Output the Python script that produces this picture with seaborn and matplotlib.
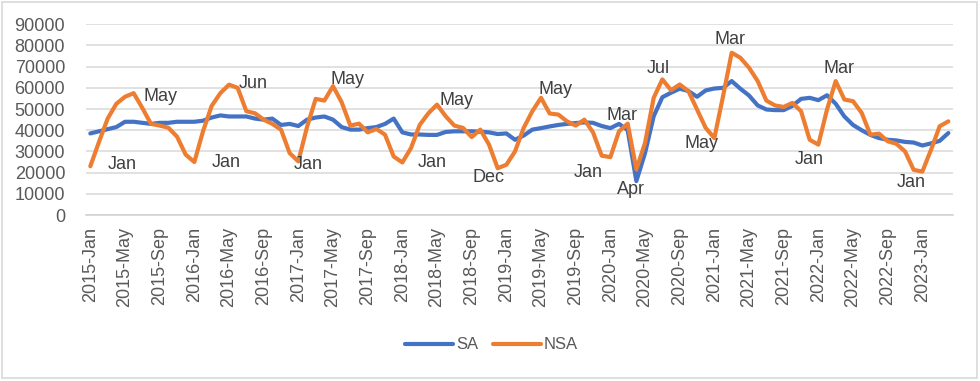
import matplotlib
matplotlib.use("Agg")
import matplotlib.pyplot as plt
import seaborn as sns
import pandas as pd
from matplotlib.patches import Rectangle

# ---------------- data ----------------
months = list(range(100))  # 2015-Jan .. 2023-Apr, monthly

sa = [38500, 39500, 40500, 41500, 44000, 44000, 43500, 43000, 43500, 43500,
      44000, 44000, 44000, 44500, 46000, 47000, 46500, 46500, 46500, 45500,
      45000, 45500, 42500, 43000, 42000, 45000, 46000, 46500, 45000, 41500,
      40300, 40300, 41000, 41500, 43000, 45500, 39000, 38000, 38000, 37800,
      37800, 39200, 39500, 39500, 39500, 39300, 39000, 38200, 38500, 35500,
      37500, 40300, 41000, 41800, 42500, 43000, 43400, 43700, 43500, 42000,
      41000, 43000, 40000, 16000, 29200, 46600, 55600, 57700, 59600, 58500,
      55800, 58800, 59700, 60000, 63200, 59600, 56400, 51700, 49800, 49500,
      49500, 51500, 54800, 55300, 54200, 56500, 52500, 46500, 42500, 40000,
      37800, 36300, 35500, 35200, 34500, 34200, 32800, 33800, 35000, 38700]

nsa = [23000, 34500, 45500, 52500, 55800, 57500, 50500, 43000, 42200, 41200,
       37000, 28500, 25000, 39500, 51500, 57500, 61500, 60000, 49000, 48000,
       45000, 43000, 40300, 29200, 25300, 41500, 54800, 54000, 60800, 53200,
       42200, 43100, 39000, 40600, 37900, 27600, 24800, 31600, 42500, 48000,
       52100, 46600, 42200, 41100, 36800, 40300, 33200, 22100, 23700, 30000,
       41100, 49000, 55300, 47900, 47400, 44200, 42200, 45000, 39000, 28000,
       27300, 39500, 43100, 21500, 34000, 55300, 64000, 58900, 61600, 58500,
       49800, 41100, 36300, 56000, 76600, 74200, 69500, 63200, 54000, 51700,
       51000, 52900, 49000, 35500, 33200, 49800, 63200, 54500, 53700, 48200,
       37900, 38400, 34800, 33600, 30000, 21300, 20500, 30800, 41900, 44200]

tick_labels = ["2015-Jan", "2015-May", "2015-Sep", "2016-Jan", "2016-May", "2016-Sep",
               "2017-Jan", "2017-May", "2017-Sep", "2018-Jan", "2018-May", "2018-Sep",
               "2019-Jan", "2019-May", "2019-Sep", "2020-Jan", "2020-May", "2020-Sep",
               "2021-Jan", "2021-May", "2021-Sep", "2022-Jan", "2022-May", "2022-Sep",
               "2023-Jan"]

annot_text = ["Jan", "May", "Jan", "Jun", "Jan", "May", "Jan", "May", "Dec", "May",
              "Jan", "Mar", "Apr", "Jul", "May", "Mar", "Mar", "Jan", "Jan"]
annot_x = [3.65, 8.15, 15.65, 18.77, 25.1, 29.7, 39.5, 42.3, 45.9, 53.7,
           57.4, 61.3, 62.4, 65.5, 70.5, 73.8, 86.4, 83.0, 94.7]
annot_y = [23700, 55900, 24600, 62100, 23700, 64000, 24600, 54000, 17500, 59200,
           19900, 46900, 11800, 69200, 33600, 82900, 69200, 26100, 15200]

series_names = ["SA", "NSA"]

df = pd.concat([
    pd.DataFrame({"month": months, "value": sa, "series": "SA"}),
    pd.DataFrame({"month": months, "value": nsa, "series": "NSA"}),
], ignore_index=True)

# ---------------- style ----------------
sns.set_theme(style="white")
plt.rcParams["font.family"] = ["Liberation Sans", "DejaVu Sans"]

fig = plt.figure(figsize=(9.8, 3.81), dpi=100)
ax = fig.add_axes([86 / 980, 1 - 215 / 381, (952.7 - 86) / 980, (215 - 24.3) / 381])

sns.lineplot(data=df, x="month", y="value", hue="series", hue_order=series_names,
             palette={"SA": "#4472C4", "NSA": "#ED7D31"}, linewidth=3.0,
             ax=ax, legend=True)
for ln in ax.lines:
    ln.set_solid_joinstyle("round")
    ln.set_solid_capstyle("round")

ax.set_xlim(-0.5, 99.5)
ax.set_ylim(0, 90000)
ax.set_yticks(range(0, 90001, 10000))
ax.set_yticklabels([str(v) for v in range(0, 90001, 10000)])
ax.set_xticks(list(range(0, 97, 4)))
ax.set_xticklabels(tick_labels, rotation=90, ha="center", va="top")
ax.set_xticks([-0.5 + 4 * k for k in range(26)], minor=True)
ax.tick_params(axis="x", which="major", length=0, pad=8.5, labelsize=13, labelcolor="#595959")
ax.tick_params(axis="x", which="minor", length=5, width=1, color="#D0D0D0", direction="out")
ax.tick_params(axis="y", which="both", length=0, pad=15, labelsize=13, labelcolor="#595959")
ax.set_xlabel("")
ax.set_ylabel("")

ax.yaxis.grid(True, color="#D9D9D9", linewidth=1.1)
ax.xaxis.grid(False)
ax.set_axisbelow(True)
for s in ["top", "right", "left"]:
    ax.spines[s].set_visible(False)
ax.spines["bottom"].set_color("#D0D0D0")
ax.spines["bottom"].set_linewidth(1.1)

for t, x, y in zip(annot_text, annot_x, annot_y):
    ax.text(x, y, t, ha="center", va="center", fontsize=13, color="#404040")

handles, labels = ax.get_legend_handles_labels()
ax.get_legend().remove()
fig.legend(handles, labels, loc="center", bbox_to_anchor=(0.5015, 0.0945), ncol=2,
           frameon=False, fontsize=12, labelcolor="#595959", handlelength=2.9,
           handletextpad=0.15, columnspacing=0.9)

fig.patches.append(Rectangle((0.002, 0.008), 0.995, 0.986, transform=fig.transFigure,
                             fill=False, edgecolor="#D9D9D9", linewidth=1.2))

fig.savefig("out.png", dpi=100)
